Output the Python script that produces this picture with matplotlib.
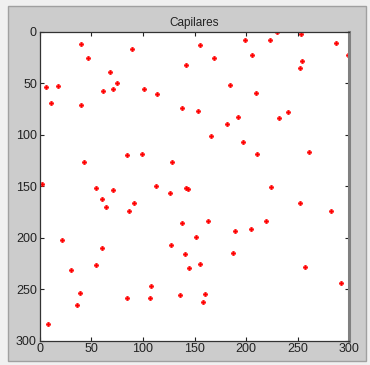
import matplotlib
matplotlib.use('Agg')
import matplotlib.pyplot as plt
from matplotlib.patches import Rectangle

# capilares detectados (columna, fila)
xs = [40, 46.8, 89.4, 68.1, 75.2, 6.5, 18.1, 11, 40, 61.3,
      70.7, 101.4, 114, 142, 155.3, 169.2, 199.2, 206, 222.8, 229.9,
      253.5, 254.4, 251.9, 287, 298.4, 184.7, 209.6, 138.2, 153.4, 240.6,
      192.1, 231.5, 181.5, 165.6, 197.3, 260.9, 210.5, 84.6, 98.8, 42.6,
      127.9, 2.6, 54.9, 70.7, 113, 126.3, 141.8, 144, 223.8, 60,
      64.6, 91.7, 86.5, 251.9, 282.2, 137.6, 163.4, 219.2, 189.5, 204.4,
      21.3, 151.8, 127.2, 60, 141.1, 187.6, 30, 54.9, 144.7, 154.9,
      257, 39.1, 35.8, 84.6, 107.8, 106.9, 135.9, 160.5, 158.5, 292.2,
      8.4]
ys = [11.7, 25.9, 17.2, 38.8, 49.5, 54, 53, 69, 71.5, 57.3,
      55.7, 55.7, 60.2, 32.7, 12.6, 25.9, 8.1, 23, 8.1, 0.6,
      2.6, 28.2, 35.3, 11.3, 23, 52.1, 59.2, 74.1, 76.7, 77.7,
      82.8, 83.8, 90, 101.3, 106.8, 116.5, 119.1, 120.1, 119.1, 126.2,
      126.2, 148.2, 151.8, 153.4, 150.2, 156.3, 151.8, 152.8, 150.8, 162.5,
      170.2, 166.7, 174.4, 166.7, 173.8, 186.1, 184.1, 184.1, 193.9, 191.3,
      201.9, 199.4, 207.1, 209.7, 215.9, 215.2, 231.1, 226.5, 229.1, 225.6,
      228.2, 254, 265.4, 258.3, 246.9, 258.3, 255.7, 255, 262.8, 244,
      283.8]
ticks = [0, 50, 100, 150, 200, 250, 300]

plt.rcParams['font.family'] = ['Liberation Sans', 'DejaVu Sans']

fig = plt.figure(figsize=(3.70, 3.65), dpi=100, facecolor='#f0f0f0')
# panel gris de la ventana
fig.patches.append(Rectangle((8 / 370, 4 / 365), 358 / 370, 355 / 365,
                             transform=fig.transFigure, facecolor='#cccccc',
                             edgecolor='#a0a0a0', linewidth=1, zorder=-5))

ax = fig.add_axes([0.1073, 0.0666, 0.837, 0.847])
ax.plot(xs, ys, 'P', color='red', markersize=3.3, markeredgewidth=0.3,
        markeredgecolor='red')
ax.set_xlim(0, 300)
ax.set_ylim(300, 0)
ax.set_xticks(ticks)
ax.set_yticks(ticks)
ax.tick_params(direction='in', top=True, right=True, length=3,
               labelsize=9, pad=2, colors='#222222')
ax.set_title('Capilares', fontsize=8.5, pad=4, color='#222222')
for side in ['left', 'top', 'bottom']:
    ax.spines[side].set_color('#333333')
    ax.spines[side].set_linewidth(0.9)
ax.spines['right'].set_color('#808080')
ax.spines['right'].set_linewidth(2.2)

fig.savefig('out.png', dpi=100, facecolor=fig.get_facecolor())
